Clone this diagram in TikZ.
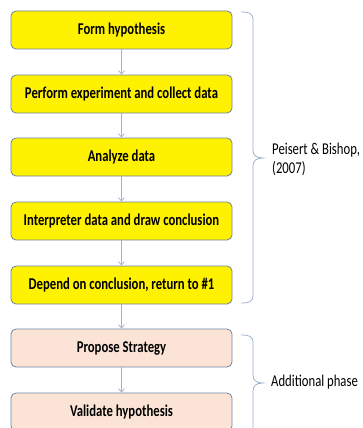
\documentclass[tikz,border=0pt]{standalone}
\usepackage{fontspec}
\setmainfont{Carlito}[FakeStretch=0.77]
\usetikzlibrary{arrows.meta}
\definecolor{boxline}{HTML}{6F82A6}
\definecolor{linkc}{HTML}{9FB1D0}
\definecolor{peach}{HTML}{FBE4D5}
\tikzset{
  stepbox/.style={draw=boxline, line width=0.8pt, rounded corners=5pt, minimum width=221pt, minimum height=38pt, inner sep=0pt, font=\bfseries\fontsize{16.5}{18}\selectfont},
  yel/.style={stepbox, fill=yellow},
  pch/.style={stepbox, fill=peach},
  link/.style={draw=linkc, line width=0.7pt, -{Straight Barb[length=3.5pt,width=6pt]}},
  bracec/.style={draw=linkc, line width=0.8pt},
  lbl/.style={font=\fontsize{16.5}{19}\selectfont, anchor=west, align=left, inner sep=0pt}
}
\begin{document}
\begin{tikzpicture}[x=1pt,y=-1pt]
\useasboundingbox (0,0) rectangle (362,428);
\begin{scope}
\clip (0,0) rectangle (362,428);
\node[yel] (b1) at (121.5,30) {Form hypothesis};
\node[yel] (b2) at (121.5,94) {Perform experiment and collect data};
\node[yel] (b3) at (121.5,157) {Analyze data};
\node[yel] (b4) at (121.5,221) {Interpreter data and draw conclusion};
\node[yel] (b5) at (121.5,285) {Depend on conclusion, return to \#1};
\node[pch] (b6) at (121.5,348) {Propose Strategy};
\node[pch] (b7) at (121.5,412) {Validate hypothesis};
\draw[link] (b1) -- (b2);
\draw[link] (b2) -- (b3);
\draw[link] (b3) -- (b4);
\draw[link] (b4) -- (b5);
\draw[link] (b5) -- (b6);
\draw[link] (b6) -- (b7);
% brace 1
\coordinate (t1) at (263,158);
\draw[bracec] (241,12) .. controls (249,12) and (253,13) .. (253,20) -- (253,150)
  .. controls (253,155) and (256,158) .. (t1)
  .. controls (256,158) and (253,161) .. (253,166) -- (253,295)
  .. controls (253,302) and (249,303) .. (241,303);
\node[lbl] (p1) at (272,159) {Peisert \& Bishop,\\(2007)};
% brace 2
\coordinate (t2) at (263,383);
\draw[bracec] (241,335) .. controls (249,335) and (253,336) .. (253,343) -- (253,375)
  .. controls (253,380) and (256,383) .. (t2)
  .. controls (256,383) and (253,386) .. (253,391) -- (253,440);
\node[lbl] (p2) at (271,382) {Additional phase};
\end{scope}
\end{tikzpicture}
\end{document}
